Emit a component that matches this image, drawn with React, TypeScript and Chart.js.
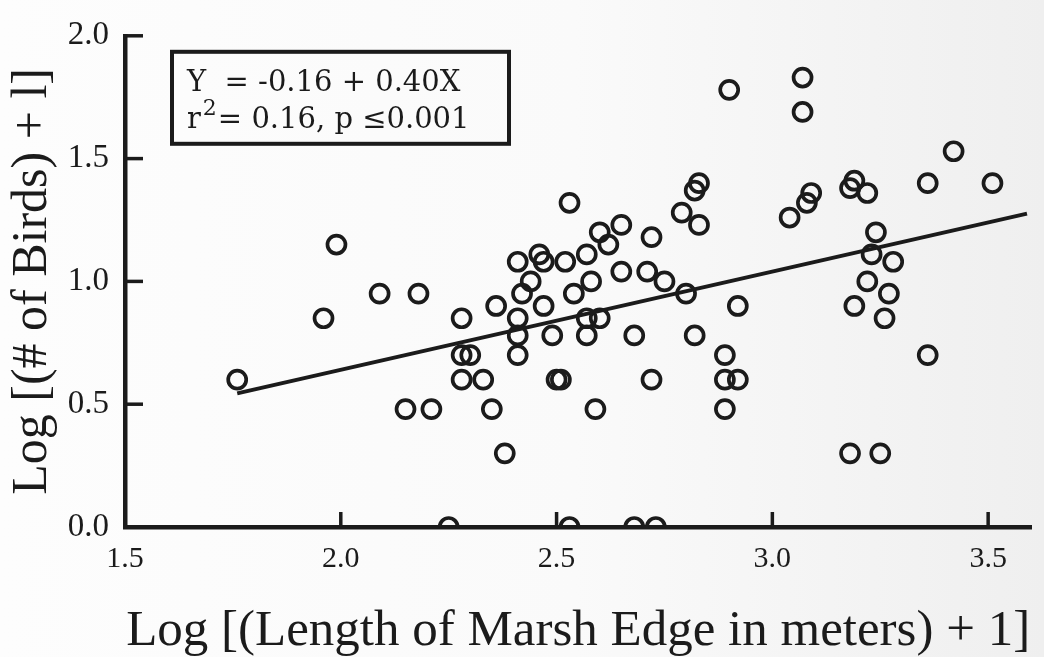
import React, { useEffect, useRef } from 'react';
import { Chart, registerables } from 'chart.js';

Chart.register(...registerables);

// Log-transformed marsh edge length (x) and bird counts (y), one entry per marsh
const edgeLength = [
  1.76, 1.96, 1.99, 2.09, 2.18, 2.15, 2.21, 2.25, 2.28, 2.28,
  2.30, 2.28, 2.33, 2.35, 2.36, 2.38, 2.41, 2.41, 2.41, 2.41,
  2.42, 2.44, 2.46, 2.47, 2.47, 2.49, 2.50, 2.51, 2.52, 2.53,
  2.54, 2.53, 2.57, 2.57, 2.57, 2.58, 2.59, 2.60, 2.60, 2.62,
  2.65, 2.65, 2.68, 2.68, 2.71, 2.72, 2.72, 2.73, 2.75, 2.79,
  2.80, 2.82, 2.82, 2.83, 2.83, 2.89, 2.89, 2.92, 2.89, 2.90,
  2.92, 3.04, 3.07, 3.07, 3.08, 3.09, 3.18, 3.19, 3.22, 3.19,
  3.18, 3.24, 3.23, 3.22, 3.26, 3.27, 3.28, 3.25, 3.36, 3.36,
  3.42, 3.51,
];
const birdCount = [
  0.60, 0.85, 1.15, 0.95, 0.95, 0.48, 0.48, 0.00, 0.85, 0.70,
  0.70, 0.60, 0.60, 0.48, 0.90, 0.30, 1.08, 0.85, 0.78, 0.70,
  0.95, 1.00, 1.11, 0.90, 1.08, 0.78, 0.60, 0.60, 1.08, 1.32,
  0.95, 0.00, 0.78, 1.11, 0.85, 1.00, 0.48, 1.20, 0.85, 1.15,
  1.23, 1.04, 0.78, 0.00, 1.04, 0.60, 1.18, 0.00, 1.00, 1.28,
  0.95, 0.78, 1.37, 1.40, 1.23, 0.70, 0.60, 0.60, 0.48, 1.78,
  0.90, 1.26, 1.69, 1.83, 1.32, 1.36, 1.38, 1.41, 1.36, 0.90,
  0.30, 1.20, 1.11, 1.00, 0.85, 0.95, 1.08, 0.30, 1.40, 0.70,
  1.53, 1.40,
];

// Least-squares fit: Y = -0.16 + 0.40X
const intercept = -0.16;
const slope = 0.4;
const fitRange = [1.76, 3.59];

const xTickValues = [1.5, 2.0, 2.5, 3.0, 3.5];
const xTickLabels = ['1.5', '2.0', '2.5', '3.0', '3.5'];
const yTickValues = [0.0, 0.5, 1.0, 1.5, 2.0];
const yTickLabels = ['0.0', '0.5', '1.0', '1.5', '2.0'];

const xTitle = 'Log [(Length of Marsh Edge in meters) + 1]';
const yTitle = 'Log [(# of Birds) + l]';
const equationText = 'Y  = -0.16 + 0.40X';
const statsText = '= 0.16, p \u22640.001';

const INK = '#1b1b1b';
const SERIF = '"Liberation Serif", "Times New Roman", serif';
const BOX_FONT = '"DejaVu Serif", serif';

// Tick marks pointing into the plot area
const innerTicks = {
  id: 'innerTicks',
  afterDraw(chart: any) {
    const { ctx, scales } = chart;
    const x = scales.x;
    const y = scales.y;
    ctx.save();
    ctx.strokeStyle = INK;
    ctx.lineWidth = 3.5;
    xTickValues.forEach((v) => {
      if (v === x.min) return;
      const px = x.getPixelForValue(v);
      ctx.beginPath();
      ctx.moveTo(px, y.bottom);
      ctx.lineTo(px, y.bottom - 15);
      ctx.stroke();
    });
    yTickValues.forEach((v) => {
      if (v === y.min) return;
      const py = y.getPixelForValue(v);
      ctx.beginPath();
      ctx.moveTo(x.left, py);
      ctx.lineTo(x.left + 18, py);
      ctx.stroke();
    });
    ctx.restore();
  },
};

// Framed regression equation in the upper left of the plot
const equationBox = {
  id: 'equationBox',
  afterDraw(chart: any) {
    const { ctx, chartArea } = chart;
    const left = chartArea.left + 47;
    const top = chartArea.top + 16;
    ctx.save();
    ctx.lineWidth = 4;
    ctx.strokeStyle = INK;
    ctx.strokeRect(left, top, 337, 92);
    ctx.fillStyle = INK;
    ctx.textAlign = 'left';
    ctx.textBaseline = 'alphabetic';
    ctx.font = `29px ${BOX_FONT}`;
    ctx.fillText(equationText, left + 15, top + 39);
    const base = top + 76;
    let cx = left + 15;
    ctx.fillText('r', cx, base);
    cx += ctx.measureText('r').width + 2;
    ctx.font = `22px ${BOX_FONT}`;
    ctx.fillText('2', cx, base - 13);
    cx += ctx.measureText('2').width + 1;
    ctx.font = `29px ${BOX_FONT}`;
    ctx.fillText(statsText, cx, base);
    ctx.restore();
  },
};

export default function App() {
  const canvasRef = useRef<HTMLCanvasElement>(null);

  useEffect(() => {
    const canvas = canvasRef.current;
    if (!canvas) return;

    const points = edgeLength.map((x, i) => ({ x, y: birdCount[i] }));
    const fitLine = fitRange.map((x) => ({ x, y: intercept + slope * x }));

    const chart = new Chart(canvas, {
      type: 'scatter',
      data: {
        datasets: [
          {
            label: 'fit',
            data: fitLine,
            showLine: true,
            borderColor: INK,
            borderWidth: 4,
            pointRadius: 0,
            fill: false,
          },
          {
            label: 'marshes',
            data: points,
            pointStyle: 'circle',
            pointRadius: 9,
            pointBorderWidth: 3.7,
            borderColor: INK,
            backgroundColor: 'rgba(0,0,0,0)',
          },
        ],
      },
      options: {
        responsive: false,
        animation: false,
        events: [],
        layout: { padding: { left: 0, top: 28, right: 9, bottom: 0 } },
        plugins: {
          legend: { display: false },
          tooltip: { enabled: false },
        },
        scales: {
          x: {
            type: 'linear',
            min: 1.5,
            max: 3.6,
            afterBuildTicks: (scale: any) => {
              scale.ticks = xTickValues.map((value) => ({ value }));
            },
            afterFit: (scale: any) => {
              scale.height = 130;
            },
            grid: { display: false, drawTicks: false },
            border: { display: true, color: INK, width: 4.5 },
            ticks: {
              color: INK,
              padding: 14,
              autoSkip: false,
              maxRotation: 0,
              font: { family: SERIF, size: 30 },
              callback: (_v: any, i: number) => xTickLabels[i],
            },
            title: {
              display: true,
              text: xTitle,
              color: INK,
              font: { family: SERIF, size: 51, lineHeight: 1.0 },
              padding: { top: 0, bottom: 0 },
            },
          },
          y: {
            type: 'linear',
            min: 0,
            max: 2,
            afterBuildTicks: (scale: any) => {
              scale.ticks = yTickValues.map((value) => ({ value }));
            },
            afterFit: (scale: any) => {
              scale.width = 125;
            },
            grid: { display: false, drawTicks: false },
            border: { display: true, color: INK, width: 4.5 },
            ticks: {
              color: INK,
              padding: 16,
              autoSkip: false,
              font: { family: SERIF, size: 33 },
              callback: (_v: any, i: number) => yTickLabels[i],
            },
            title: {
              display: true,
              text: yTitle,
              color: INK,
              font: { family: SERIF, size: 50, lineHeight: 1.0 },
              padding: { top: 8, bottom: 0 },
            },
          },
        },
      },
      plugins: [innerTicks, equationBox],
    });

    return () => chart.destroy();
  }, []);

  return (
    <div
      style={{
        position: 'fixed',
        left: 0,
        top: 0,
        width: 1044,
        height: 657,
        background: 'linear-gradient(90deg, #fdfdfd 0%, #fafafa 55%, #efefef 100%)',
      }}
    >
      <canvas ref={canvasRef} width={1044} height={657} style={{ display: 'block', width: 1044, height: 657 }} />
    </div>
  );
}
